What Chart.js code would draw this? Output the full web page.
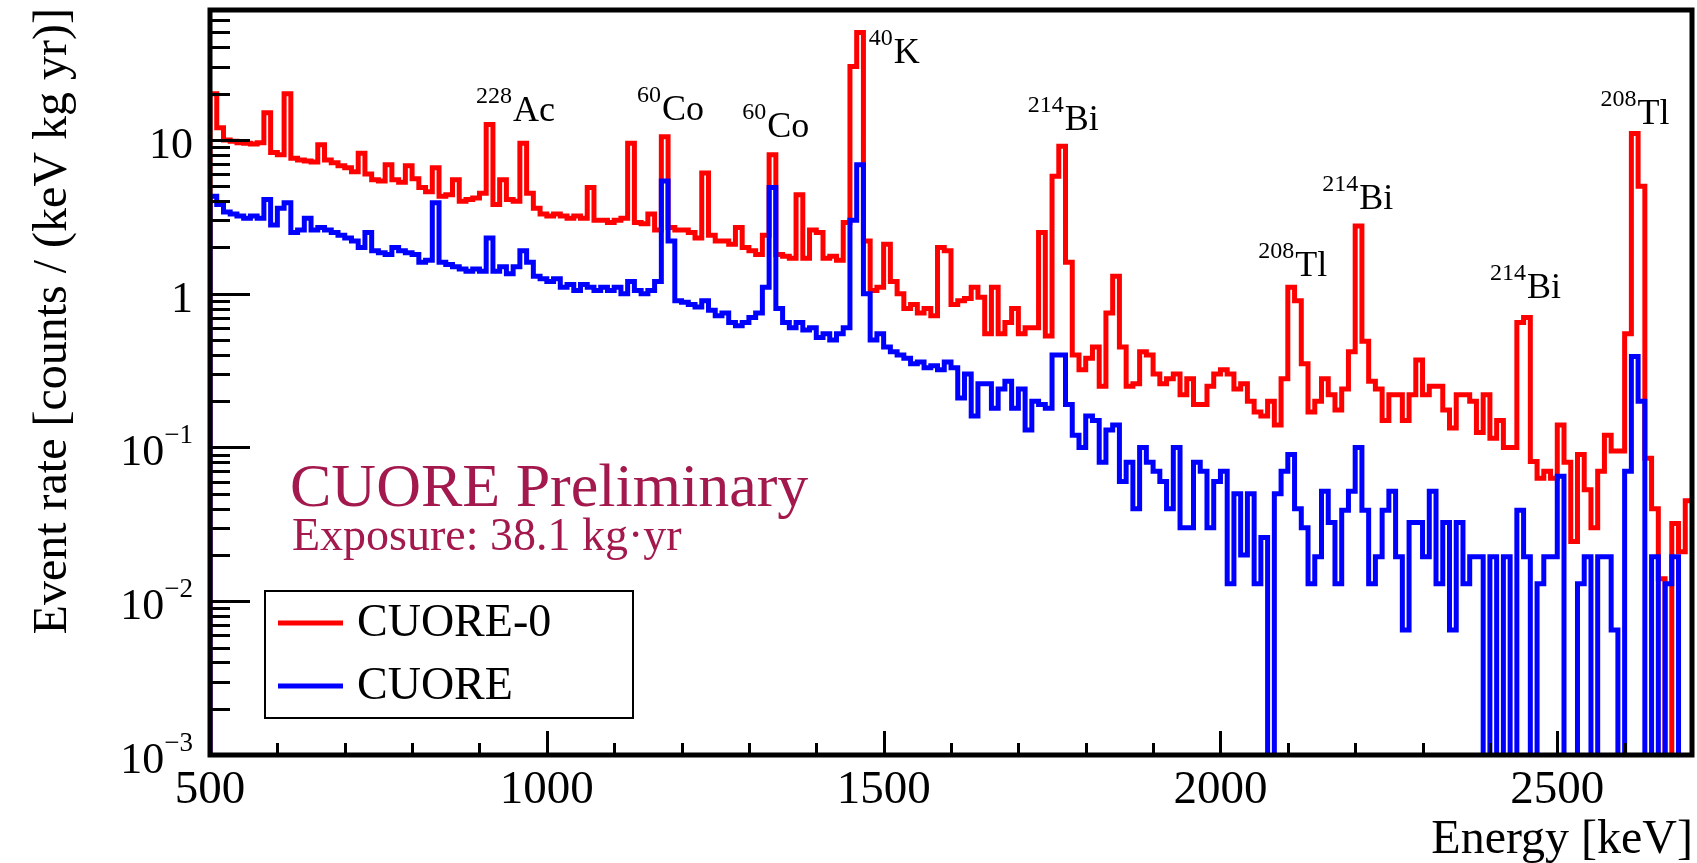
<!DOCTYPE html>
<html>
<head>
<meta charset="utf-8">
<script src="https://cdn.jsdelivr.net/npm/chart.js@4.4.1/dist/chart.umd.min.js"></script>
<style>
  html, body { margin: 0; padding: 0; background: #fff; }
</style>
</head>
<body>
<canvas id="myChart" width="1697" height="863"></canvas>
<script>
// low edges of the 10 keV bins
const energyBins = [
  500, 510, 520, 530, 540, 550, 560, 570, 580, 590,
  600, 610, 620, 630, 640, 650, 660, 670, 680, 690,
  700, 710, 720, 730, 740, 750, 760, 770, 780, 790,
  800, 810, 820, 830, 840, 850, 860, 870, 880, 890,
  900, 910, 920, 930, 940, 950, 960, 970, 980, 990,
  1000, 1010, 1020, 1030, 1040, 1050, 1060, 1070, 1080, 1090,
  1100, 1110, 1120, 1130, 1140, 1150, 1160, 1170, 1180, 1190,
  1200, 1210, 1220, 1230, 1240, 1250, 1260, 1270, 1280, 1290,
  1300, 1310, 1320, 1330, 1340, 1350, 1360, 1370, 1380, 1390,
  1400, 1410, 1420, 1430, 1440, 1450, 1460, 1470, 1480, 1490,
  1500, 1510, 1520, 1530, 1540, 1550, 1560, 1570, 1580, 1590,
  1600, 1610, 1620, 1630, 1640, 1650, 1660, 1670, 1680, 1690,
  1700, 1710, 1720, 1730, 1740, 1750, 1760, 1770, 1780, 1790,
  1800, 1810, 1820, 1830, 1840, 1850, 1860, 1870, 1880, 1890,
  1900, 1910, 1920, 1930, 1940, 1950, 1960, 1970, 1980, 1990,
  2000, 2010, 2020, 2030, 2040, 2050, 2060, 2070, 2080, 2090,
  2100, 2110, 2120, 2130, 2140, 2150, 2160, 2170, 2180, 2190,
  2200, 2210, 2220, 2230, 2240, 2250, 2260, 2270, 2280, 2290,
  2300, 2310, 2320, 2330, 2340, 2350, 2360, 2370, 2380, 2390,
  2400, 2410, 2420, 2430, 2440, 2450, 2460, 2470, 2480, 2490,
  2500, 2510, 2520, 2530, 2540, 2550, 2560, 2570, 2580, 2590,
  2600, 2610, 2620, 2630, 2640, 2650, 2660, 2670, 2680, 2690
];
const energyMax = 2700;

// counts / (keV kg yr)
const cuore0Rate = [
  20, 12, 10, 9.8, 9.6, 9.5, 9.4, 9.6, 15, 8.3,
  8.0, 20, 7.6, 7.4, 7.3, 7.2, 9.3, 7.4, 7.1, 6.8,
  6.6, 6.2, 8.2, 6.0, 5.5, 5.4, 6.9, 5.5, 5.3, 6.8,
  5.6, 4.9, 4.6, 6.6, 4.3, 4.4, 5.5, 4.0, 4.1, 4.2,
  4.5, 12.6, 3.8, 5.5, 4.1, 4.0, 9.5, 4.5, 3.6, 3.3,
  3.2, 3.3, 3.2, 3.1, 3.2, 3.1, 4.9, 3.0, 3.0, 2.9,
  3.0, 3.1, 9.5, 2.9, 2.85, 3.3, 2.6, 10.5, 2.7, 2.6,
  2.6, 2.5, 2.3, 6.1, 2.4, 2.2, 2.2, 2.1, 2.7, 2.0,
  1.9, 1.8, 2.4, 8.0, 1.8, 1.75, 1.7, 4.4, 1.7, 2.6,
  2.5, 1.7, 1.75, 1.65, 2.9, 30, 50, 2.2, 1.05, 1.1,
  2.1, 1.2, 1.0, 0.8, 0.85, 0.75, 0.8, 0.72, 2.0, 1.9,
  0.85, 0.9, 0.93, 1.1, 0.95, 0.55, 1.1, 0.55, 0.65, 0.8,
  0.55, 0.6, 0.6, 2.5, 0.53, 5.8, 9.1, 1.6, 0.4, 0.32,
  0.38, 0.45, 0.25, 0.75, 1.3, 0.45, 0.25, 0.26, 0.42, 0.4,
  0.3, 0.26, 0.28, 0.3, 0.22, 0.28, 0.19, 0.19, 0.25, 0.3,
  0.32, 0.3, 0.24, 0.26, 0.2, 0.17, 0.16, 0.2, 0.14, 0.28,
  1.1, 0.9, 0.35, 0.17, 0.2, 0.28, 0.22, 0.175, 0.24, 0.42,
  2.76, 0.49, 0.27, 0.24, 0.15, 0.22, 0.22, 0.15, 0.22, 0.37,
  0.22, 0.25, 0.25, 0.175, 0.134, 0.22, 0.22, 0.2, 0.125, 0.22,
  0.115, 0.15, 0.1, 0.1, 0.65, 0.7, 0.081, 0.063, 0.07, 0.063,
  0.14, 0.08, 0.0245, 0.09, 0.053, 0.03, 0.07, 0.12, 0.095, 0.095,
  0.55, 11, 5, 0.085, 0.04, 0.014, 0, 0.032, 0.021, 0.045
];

const cuoreRate = [
  4.3, 3.8, 3.4, 3.3, 3.2, 3.1, 3.2, 3.1, 4.1, 2.8,
  3.6, 3.9, 2.5, 2.6, 3.1, 2.6, 2.7, 2.6, 2.5, 2.4,
  2.3, 2.2, 2.0, 2.5, 1.9, 1.85, 1.8, 2.0, 1.9, 1.85,
  1.8, 1.6, 1.65, 3.9, 1.6, 1.55, 1.5, 1.45, 1.4, 1.45,
  1.4, 2.3, 1.4, 1.5, 1.35, 1.5, 1.9, 1.6, 1.3, 1.25,
  1.2, 1.25, 1.1, 1.15, 1.05, 1.15, 1.1, 1.05, 1.1, 1.05,
  1.1, 1.0, 1.2, 1.05, 1.0, 1.05, 1.2, 5.4, 2.2, 0.9,
  0.88, 0.85, 0.82, 0.9, 0.78, 0.72, 0.75, 0.65, 0.62, 0.65,
  0.7, 0.75, 1.1, 4.9, 0.8, 0.65, 0.6, 0.65, 0.58, 0.6,
  0.52, 0.55, 0.5, 0.55, 0.6, 3.0, 6.9, 1.0, 0.5, 0.55,
  0.45, 0.42, 0.4, 0.38, 0.35, 0.36, 0.33, 0.34, 0.32, 0.36,
  0.33, 0.21, 0.3, 0.16, 0.26, 0.26, 0.18, 0.24, 0.27, 0.18,
  0.24, 0.13, 0.2, 0.19, 0.18, 0.4, 0.4, 0.19, 0.12, 0.1,
  0.16, 0.15, 0.08, 0.13, 0.14, 0.06, 0.08, 0.04, 0.1, 0.08,
  0.07, 0.06, 0.04, 0.1, 0.03, 0.03, 0.08, 0.07, 0.03, 0.06,
  0.07, 0.013, 0.05, 0.02, 0.05, 0.013, 0.026, 0, 0.05, 0.07,
  0.09, 0.04, 0.03, 0.013, 0.0195, 0.052, 0.0325, 0.013, 0.039, 0.052,
  0.1, 0.039, 0.013, 0.0195, 0.039, 0.052, 0.0195, 0.0065, 0.0325, 0.0325,
  0.0195, 0.052, 0.013, 0.0325, 0.0065, 0.0325, 0.013, 0.0195, 0.0195, 0,
  0.0195, 0, 0.0195, 0, 0.039, 0.0195, 0, 0.013, 0.0195, 0.0195,
  0.065, 0, 0, 0.013, 0.0195, 0, 0.0195, 0.0195, 0.0065, 0,
  0.07, 0.39, 0.2, 0, 0.0195, 0, 0.013, 0.0195, 0, 0
];

const seriesNames = ['CUORE-0', 'CUORE'];
const seriesColors = ['#ff0000', '#0000ff'];

const xTickValues = [500, 1000, 1500, 2000, 2500];
const xTickLabels = ['500', '1000', '1500', '2000', '2500'];
const yTickValues = [0.001, 0.01, 0.1, 1, 10];
const yTickBases = ['10', '10', '10', '1', '10'];
const yTickExps = ['\u22123', '\u22122', '\u22121', '', ''];

const xTitle = 'Energy [keV]';
const yTitle = 'Event rate [counts / (keV kg yr)]';

// peak annotations, anchored in data coordinates
const peakMass = ['228', '60', '60', '40', '214', '208', '214', '214', '208'];
const peakElement = ['Ac', 'Co', 'Co', 'K', 'Bi', 'Tl', 'Bi', 'Bi', 'Tl'];
const peakLabelE = [895, 1134, 1290, 1478, 1714, 2056, 2151, 2400, 2564];
const peakLabelRate = [13.3, 13.4, 10.4, 31.6, 11.6, 1.30, 3.57, 0.94, 12.7];

const FONT = '"Liberation Serif", "Times New Roman", serif';
const EMPTY = 1e-5; // empty bins drop below the axis like in ROOT

function histPoints(rates) {
  const pts = [{x: energyBins[0], y: EMPTY}];
  rates.forEach((r, i) => pts.push({x: energyBins[i], y: r > 0 ? r : EMPTY}));
  const last = rates[rates.length - 1];
  pts.push({x: energyMax, y: last > 0 ? last : EMPTY});
  return pts;
}

const rootStyle = {
  id: 'rootStyle',
  afterDatasetsDraw(chart) {
    const {ctx, chartArea: a, scales: {x, y}} = chart;
    ctx.save();
    ctx.fillStyle = '#000';
    ctx.strokeStyle = '#000';

    // y ticks (inside the frame)
    ctx.lineWidth = 3;
    ctx.beginPath();
    for (let d = -3; d <= 1; d++) {
      for (let m = 1; m <= 9; m++) {
        const v = m * Math.pow(10, d);
        if (v > y.max) break;
        const py = Math.round(y.getPixelForValue(v)) + 0.5;
        const len = m === 1 ? 40 : 20;
        ctx.moveTo(a.left, py);
        ctx.lineTo(a.left + len, py);
      }
    }
    // x ticks
    for (let e = 500; e <= 2700; e += 100) {
      const px = Math.round(x.getPixelForValue(e)) + 0.5;
      const len = e % 500 === 0 ? 24 : 12;
      ctx.moveTo(px, a.bottom);
      ctx.lineTo(px, a.bottom - len);
    }
    ctx.stroke();

    // frame
    ctx.lineWidth = 5;
    ctx.strokeRect(a.left, a.top, a.right - a.left, a.bottom - a.top);

    // x tick labels
    ctx.font = '47px ' + FONT;
    ctx.textAlign = 'center';
    ctx.textBaseline = 'alphabetic';
    xTickValues.forEach((v, i) => {
      ctx.fillText(xTickLabels[i], x.getPixelForValue(v), 803);
    });

    // y tick labels
    yTickValues.forEach((v, i) => {
      const py = y.getPixelForValue(v);
      const right = a.left - 17;
      if (yTickExps[i]) {
        ctx.font = '27px ' + FONT;
        ctx.textAlign = 'right';
        const ew = ctx.measureText(yTickExps[i]).width;
        ctx.fillText(yTickExps[i], right, py - 4);
        ctx.font = '44px ' + FONT;
        ctx.fillText(yTickBases[i], right - ew, py + 18);
      } else {
        ctx.font = '44px ' + FONT;
        ctx.textAlign = 'right';
        ctx.fillText(yTickBases[i], right, py + 18);
      }
    });

    // axis titles
    ctx.font = '48px ' + FONT;
    ctx.textAlign = 'right';
    ctx.fillText(xTitle, a.right + 1, 853);
    ctx.save();
    ctx.translate(66, 8);
    ctx.rotate(-Math.PI / 2);
    ctx.fillText(yTitle, 0, 0);
    ctx.restore();

    // peak labels
    ctx.textAlign = 'left';
    peakMass.forEach((mass, i) => {
      const px = x.getPixelForValue(peakLabelE[i]);
      const py = y.getPixelForValue(peakLabelRate[i]);
      ctx.font = '24px ' + FONT;
      ctx.fillText(mass, px, py - 18);
      const w = ctx.measureText(mass).width;
      ctx.font = '36px ' + FONT;
      ctx.fillText(peakElement[i], px + w + 1, py);
    });

    // preliminary text
    ctx.fillStyle = '#a3194d';
    ctx.font = '62px ' + FONT;
    ctx.fillText('CUORE Preliminary', 290, 506);
    ctx.font = '46px ' + FONT;
    ctx.fillText('Exposure: 38.1 kg\u00b7yr', 292, 550);

    // legend
    ctx.fillStyle = '#fff';
    ctx.fillRect(265, 591, 368, 127);
    ctx.lineWidth = 2;
    ctx.strokeStyle = '#000';
    ctx.strokeRect(265, 591, 368, 127);
    const rows = [623, 686];
    seriesNames.forEach((name, i) => {
      ctx.strokeStyle = seriesColors[i];
      ctx.lineWidth = 5;
      ctx.beginPath();
      ctx.moveTo(278, rows[i]);
      ctx.lineTo(343, rows[i]);
      ctx.stroke();
      ctx.fillStyle = '#000';
      ctx.font = '46px ' + FONT;
      ctx.fillText(name, 357, rows[i] + 13);
    });
    ctx.restore();
  }
};

const config = {
  type: 'line',
  data: {
    datasets: [
      {
        label: seriesNames[0],
        data: histPoints(cuore0Rate),
        borderColor: seriesColors[0],
        borderWidth: 5,
        stepped: true,
        pointRadius: 0,
        fill: false,
        order: 1
      },
      {
        label: seriesNames[1],
        data: histPoints(cuoreRate),
        borderColor: seriesColors[1],
        borderWidth: 5,
        stepped: true,
        pointRadius: 0,
        fill: false,
        order: 0
      }
    ]
  },
  options: {
    responsive: false,
    animation: false,
    devicePixelRatio: 1,
    layout: { padding: { left: 210, right: 5, top: 10, bottom: 108 } },
    elements: { line: { borderJoinStyle: 'miter', borderCapStyle: 'butt', tension: 0 } },
    plugins: { legend: { display: false }, tooltip: { enabled: false } },
    scales: {
      x: { type: 'linear', min: 500, max: energyMax, display: false },
      y: { type: 'logarithmic', min: 0.001, max: 70, display: false }
    }
  },
  plugins: [rootStyle]
};

new Chart(document.getElementById('myChart'), config);
</script>
</body>
</html>
